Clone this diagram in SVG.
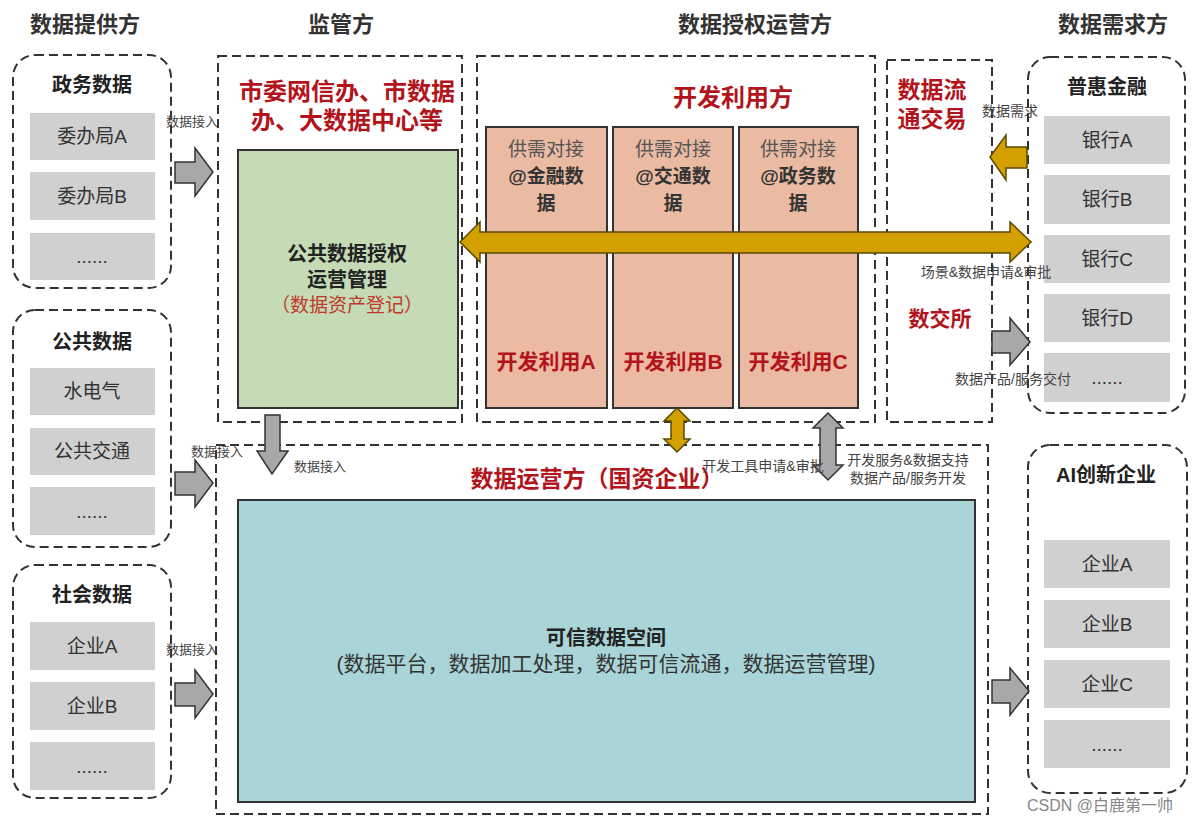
<svg xmlns="http://www.w3.org/2000/svg" width="1200" height="823" viewBox="0 0 1200 823">
<style>
text{font-family:"Liberation Sans","Noto Sans CJK SC",sans-serif;text-anchor:middle}
.hdr{font-size:22px;font-weight:bold;fill:#333}
.gt{font-size:20px;font-weight:bold;fill:#222}
.red{font-size:24px;font-weight:bold;fill:#b3141c}
.it{font-size:19px;fill:#333}
.sm{font-size:13px;fill:#444}
.md{font-size:14px;fill:#444}
.dash{fill:none;stroke:#333;stroke-width:2;stroke-dasharray:9 5}
.item{fill:#d0d0d0}
.ga{fill:#a8a8a8;stroke:#333;stroke-width:1.5}
.au{fill:#d4a000;stroke:#5a4a00;stroke-width:1.5}
.sal{fill:#ebbaa3;stroke:#333;stroke-width:2}
.sn{font-size:19px;fill:#555}
.sb{font-size:19px;font-weight:bold;fill:#333}
.sr{font-size:21px;font-weight:bold;fill:#b3141c}
</style>
<rect width="1200" height="823" fill="#fff"/>

<!-- headers -->
<text class="hdr" x="85" y="32">数据提供方</text>
<text class="hdr" x="341" y="32">监管方</text>
<text class="hdr" x="755" y="32">数据授权运营方</text>
<text class="hdr" x="1113" y="32">数据需求方</text>

<!-- left provider groups -->
<g id="gov-data">
<rect class="dash" x="13" y="55" width="158" height="233" rx="22"/>
<text class="gt" x="92" y="92">政务数据</text>
<rect class="item" x="30" y="113" width="125" height="47"/><text class="it" x="92" y="143">委办局A</text>
<rect class="item" x="30" y="172" width="125" height="48"/><text class="it" x="92" y="203">委办局B</text>
<rect class="item" x="30" y="233" width="125" height="47"/><text class="it" x="92" y="263">......</text>
</g>
<g id="public-data">
<rect class="dash" x="13" y="310" width="158" height="237" rx="22"/>
<text class="gt" x="92" y="349">公共数据</text>
<rect class="item" x="30" y="368" width="125" height="47"/><text class="it" x="92" y="398">水电气</text>
<rect class="item" x="30" y="428" width="125" height="47"/><text class="it" x="92" y="458">公共交通</text>
<rect class="item" x="30" y="487" width="125" height="48"/><text class="it" x="92" y="518">......</text>
</g>
<g id="social-data">
<rect class="dash" x="13" y="565" width="158" height="233" rx="22"/>
<text class="gt" x="92" y="602">社会数据</text>
<rect class="item" x="30" y="622" width="125" height="48"/><text class="it" x="92" y="653">企业A</text>
<rect class="item" x="30" y="682" width="125" height="48"/><text class="it" x="92" y="713">企业B</text>
<rect class="item" x="30" y="742" width="125" height="48"/><text class="it" x="92" y="773">......</text>
</g>

<!-- supervisor -->
<g id="supervisor">
<rect class="dash" x="218" y="56" width="244" height="366"/>
<text class="red" x="347" y="100">市委网信办、市数据</text>
<text class="red" x="347" y="129">办、大数据中心等</text>
<rect x="238" y="150" width="220" height="258" fill="#c4dbb5" stroke="#333" stroke-width="2"/>
<text class="gt" x="347" y="261">公共数据授权</text>
<text class="gt" x="347" y="287">运营管理</text>
<text x="347" y="312" style="font-size:19px;fill:#c0392b">（数据资产登记）</text>
</g>

<!-- developers -->
<g id="developers">
<rect class="dash" x="477" y="56" width="398" height="366"/>
<text class="red" x="733" y="106">开发利用方</text>
<rect class="sal" x="486" y="127" width="121" height="281"/>
<text class="sn" x="546" y="156">供需对接</text>
<text class="sb" x="546" y="183">@金融数</text>
<text class="sb" x="546" y="210">据</text>
<text class="sr" x="546" y="369">开发利用A</text>
<rect class="sal" x="613" y="127" width="120" height="281"/>
<text class="sn" x="673" y="156">供需对接</text>
<text class="sb" x="673" y="183">@交通数</text>
<text class="sb" x="673" y="210">据</text>
<text class="sr" x="673" y="369">开发利用B</text>
<rect class="sal" x="739" y="127" width="119" height="281"/>
<text class="sn" x="798" y="156">供需对接</text>
<text class="sb" x="798" y="183">@政务数</text>
<text class="sb" x="798" y="210">据</text>
<text class="sr" x="798" y="369">开发利用C</text>
</g>

<!-- data trading -->
<g id="trading">
<rect class="dash" x="887" y="60" width="105" height="362"/>
<text class="red" x="932" y="98" style="font-size:23px">数据流</text>
<text class="red" x="932" y="127" style="font-size:23px">通交易</text>
<text class="red" x="940" y="326" style="font-size:21px">数交所</text>
</g>

<!-- demand groups -->
<g id="finance">
<rect class="dash" x="1028" y="57" width="157" height="356" rx="22"/>
<text class="gt" x="1107" y="94">普惠金融</text>
<rect class="item" x="1044" y="116" width="126" height="48"/><text class="it" x="1107" y="147">银行A</text>
<rect class="item" x="1044" y="175" width="126" height="49"/><text class="it" x="1107" y="206">银行B</text>
<rect class="item" x="1044" y="235" width="126" height="48"/><text class="it" x="1107" y="266">银行C</text>
<rect class="item" x="1044" y="294" width="126" height="48"/><text class="it" x="1107" y="325">银行D</text>
<rect class="item" x="1044" y="353" width="126" height="49"/><text class="it" x="1107" y="384">......</text>
</g>
<g id="ai-companies">
<rect class="dash" x="1028" y="445" width="159" height="348" rx="22"/>
<text class="gt" x="1106" y="482">AI创新企业</text>
<rect class="item" x="1044" y="540" width="126" height="48"/><text class="it" x="1107" y="571">企业A</text>
<rect class="item" x="1044" y="600" width="126" height="48"/><text class="it" x="1107" y="631">企业B</text>
<rect class="item" x="1044" y="660" width="126" height="48"/><text class="it" x="1107" y="691">企业C</text>
<rect class="item" x="1044" y="720" width="126" height="48"/><text class="it" x="1107" y="751">......</text>
</g>

<!-- operator -->
<g id="operator">
<rect class="dash" x="216" y="445" width="772" height="369"/>
<text class="red" x="597" y="487" style="font-size:23px">数据运营方（国资企业）</text>
<rect x="238" y="500" width="737" height="302" fill="#a9d5d8" stroke="#333" stroke-width="2"/>
<text x="606" y="645" style="font-size:20px;font-weight:bold;fill:#222">可信数据空间</text>
<text x="606" y="671" style="font-size:21px;fill:#333">(数据平台，数据加工处理，数据可信流通，数据运营管理)</text>
</g>

<!-- connectors -->
<g id="connectors">
<path class="ga" d="M175,162 L195,162 L195,148 L213,172 L195,196 L195,183 L175,183 Z"/>
<text class="sm" x="192" y="126">数据接入</text>
<path class="ga" d="M175,472 L195,472 L195,460 L213,483 L195,507 L195,495 L175,495 Z"/>
<text class="sm" x="217" y="456">数据接入</text>
<path class="ga" d="M175,683 L195,683 L195,670 L213,694 L195,718 L195,706 L175,706 Z"/>
<text class="sm" x="192" y="654">数据接入</text>

<path class="ga" d="M265,415 L280,415 L280,451 L288,451 L272,474 L257,451 L265,451 Z"/>
<text class="sm" x="320" y="471">数据接入</text>

<path class="au" d="M460,242 L480,222 L480,232 L1010,232 L1010,222 L1031,242 L1010,262 L1010,253 L480,253 L480,262 Z"/>

<path class="au" d="M990,157 L1006,135 L1006,147 L1027,147 L1027,168 L1006,168 L1006,180 Z"/>
<text class="md" x="1010" y="116">数据需求</text>
<text class="md" x="986" y="277">场景&amp;数据申请&amp;审批</text>
<path class="ga" d="M992,331 L1010,331 L1010,318 L1030,342 L1010,365 L1010,353 L992,353 Z"/>
<text class="md" x="1013" y="384">数据产品/服务交付</text>

<path class="au" d="M677,408 L690,421 L684,421 L684,439 L690,439 L677,452 L664,439 L671,439 L671,421 L664,421 Z"/>
<path class="ga" d="M828,413 L843,428 L836,428 L836,465 L843,465 L828,480 L813,465 L820,465 L820,428 L813,428 Z"/>
<text class="md" x="763" y="471">开发工具申请&amp;审批</text>
<text class="md" x="908" y="465">开发服务&amp;数据支持</text>
<text class="md" x="908" y="483">数据产品/服务开发</text>

<path class="ga" d="M992,680 L1010,680 L1010,668 L1029,691 L1010,715 L1010,703 L992,703 Z"/>
</g>

<text x="1100" y="811" style="font-size:16px;fill:#888">CSDN @白鹿第一帅</text>
</svg>
